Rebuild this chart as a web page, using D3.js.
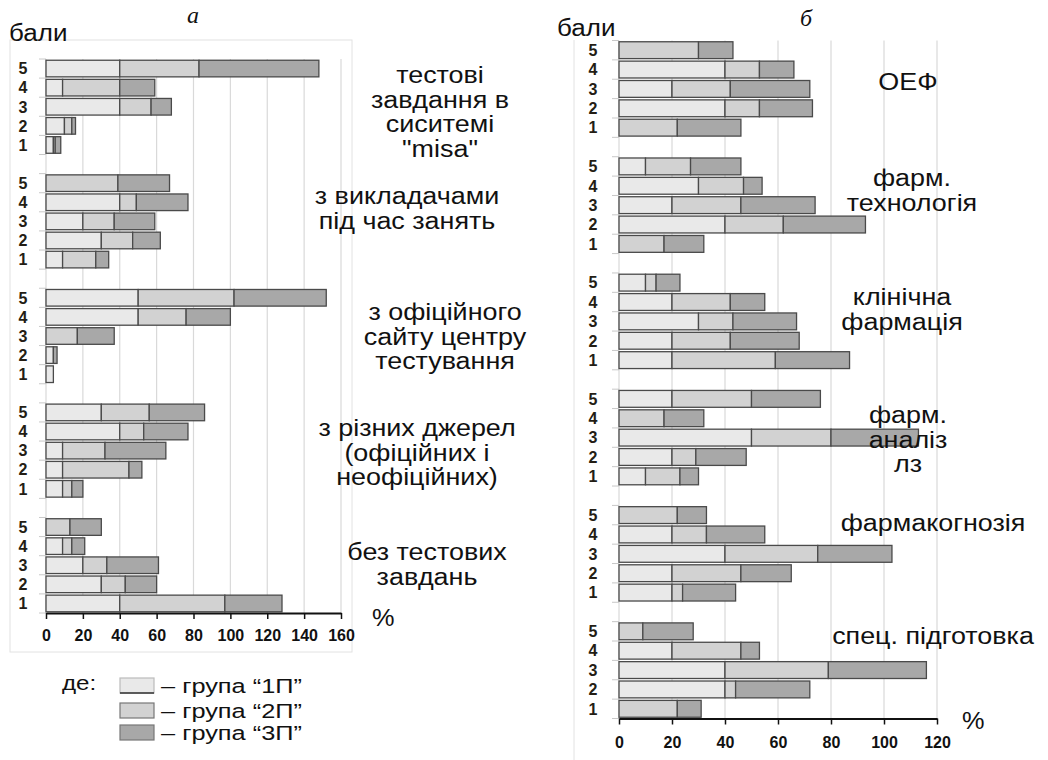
<!DOCTYPE html>
<html>
<head>
<meta charset="utf-8">
<script src="https://cdn.jsdelivr.net/npm/d3@7"></script>
<style>
  body { margin: 0; background: #fff; }
  svg text { font-family: "Liberation Sans", Arial, sans-serif; }
</style>
</head>
<body>
<div id="chart"></div>
<script>
// бали (оцінки) – зверху вниз
const scores = ["5", "4", "3", "2", "1"];
const seriesNames = ["група “1П”", "група “2П”", "група “3П”"];

// Панель а – джерела підготовки
const topicsA = [
    ["тестові", "завдання в", "сиситемі", "\"misa\""],
    ["з викладачами", "під час занять"],
    ["з офіційного", "сайту центру", "тестування"],
    ["з різних джерел", "(офіційних і", "неофіційних)"],
    ["без тестових", "завдань"]
];
// значення по темах, бали 5..1
const a1P = [40, 9, 40, 10, 4,   0, 40, 20, 30, 9,   50, 50, 0, 4, 4,   30, 40, 9, 9, 9,   0, 9, 20, 30, 40];
const a2P = [43, 31, 17, 4, 1,   39, 9, 17, 17, 18,  52, 26, 17, 0, 0,  26, 13, 23, 36, 5,  13, 5, 13, 13, 57];
const a3P = [65, 19, 11, 2, 3,   28, 28, 22, 15, 7,  50, 24, 20, 2, 0,  30, 24, 33, 7, 6,   17, 7, 28, 17, 31];
const ticksA = [0, 20, 40, 60, 80, 100, 120, 140, 160];

// Панель б – дисципліни
const topicsB = [
    ["ОЕФ"],
    ["фарм.", "технологія"],
    ["клінічна", "фармація"],
    ["фарм.", "аналіз", "лз"],
    ["фармакогнозія"],
    ["спец. підготовка"]
];
const b1P = [0, 40, 20, 40, 0,   10, 30, 20, 40, 0,   10, 20, 30, 20, 20,   20, 0, 50, 20, 10,   0, 20, 40, 20, 20,   0, 20, 40, 40, 0];
const b2P = [30, 13, 22, 13, 22,  17, 17, 26, 22, 17,  4, 22, 13, 22, 39,   30, 17, 30, 9, 13,   22, 13, 35, 26, 4,   9, 26, 39, 4, 22];
const b3P = [13, 13, 30, 20, 24,  19, 7, 28, 31, 15,   9, 13, 24, 26, 28,   26, 15, 33, 19, 7,   11, 22, 28, 19, 20,  19, 7, 37, 28, 9];
const ticksB = [0, 20, 40, 60, 80, 100, 120];

const colors = ["#e9e9e9", "#d2d2d2", "#a8a8a8"];

const svg = d3.select("#chart").append("svg")
    .attr("width", 1048)
    .attr("height", 760);

// текст, трохи розтягнутий по горизонталі (як у скані)
function addText(parent, x, y, txt, size, anchor, sx) {
    return parent.append("text")
        .attr("transform", `translate(${x},${y}) scale(${sx || 1},1)`)
        .attr("dy", "0.35em")
        .attr("text-anchor", anchor || "start")
        .style("font-size", size + "px")
        .attr("fill", "#111")
        .text(txt);
}

function drawPanel(cfg) {
    const g = svg.append("g");

    // слоти: 5 балів на тему + порожній проміжок між темами
    const slots = [];
    cfg.topics.forEach((t, i) => {
        scores.forEach(s => slots.push(i + "-" + s));
        if (i < cfg.topics.length - 1) slots.push(i + "-gap");
    });

    const x = d3.scaleLinear().domain(cfg.xDomain).range(cfg.xRange);
    const y = d3.scaleBand().domain(slots).range(cfg.yRange).paddingInner(0.13).paddingOuter(0.065);
    const step = y.step();

    // рамка
    if (cfg.frame) {
        g.append("rect")
            .attr("x", cfg.frame[0]).attr("y", cfg.frame[1])
            .attr("width", cfg.frame[2]).attr("height", cfg.frame[3])
            .attr("fill", "none").attr("stroke", "#e2e2e2");
    }

    // сітка
    g.selectAll(".grid")
        .data(cfg.ticks)
        .enter().append("line")
        .attr("x1", d => x(d)).attr("x2", d => x(d))
        .attr("y1", cfg.yRange[0]).attr("y2", cfg.yRange[1])
        .attr("stroke", "#d9d9d9").attr("stroke-width", 1.2);

    // рядки даних
    const rows = [];
    cfg.topics.forEach((t, i) => {
        scores.forEach((s, j) => {
            const k = i * 5 + j;
            rows.push({ key: i + "-" + s, score: s, v: [cfg.s1[k], cfg.s2[k], cfg.s3[k]] });
        });
    });

    // маленькі поділки на осі Y
    g.selectAll(".ytick")
        .data(rows)
        .enter().append("line")
        .attr("x1", x(0) - 7).attr("x2", x(0))
        .attr("y1", d => y(d.key) - step * 0.065).attr("y2", d => y(d.key) - step * 0.065)
        .attr("stroke", "#c8c8c8");
    cfg.topics.forEach((t, i) => {
        const yy = y(i + "-1") + y.bandwidth() + step * 0.065;
        g.append("line").attr("x1", x(0) - 7).attr("x2", x(0))
            .attr("y1", yy).attr("y2", yy).attr("stroke", "#c8c8c8");
    });

    // стовпці
    const stack = d3.stack().keys([0, 1, 2]).value((d, k) => d.v[k]);
    const layers = stack(rows);
    g.selectAll(".layer")
        .data(layers)
        .enter().append("g")
        .attr("fill", (d, i) => colors[i])
        .selectAll("rect")
        .data(d => d.filter(p => p[1] - p[0] > 0))
        .enter().append("rect")
        .attr("x", d => x(d[0]))
        .attr("y", d => y(d.data.key))
        .attr("width", d => x(d[1]) - x(d[0]))
        .attr("height", y.bandwidth())
        .attr("stroke", "#4a4a4a")
        .attr("stroke-width", 1.3);

    // підписи балів
    g.selectAll(".score")
        .data(rows)
        .enter().append("text")
        .attr("x", cfg.scoreX)
        .attr("y", d => y(d.key) + y.bandwidth() / 2)
        .attr("dy", "0.36em")
        .attr("text-anchor", "middle")
        .style("font-size", cfg.scoreSize + "px")
        .style("font-weight", "bold")
        .attr("fill", "#231d14")
        .text(d => d.score);

    // вісь X
    const axisY = cfg.yRange[1];
    const ax = g.append("g")
        .attr("transform", `translate(0,${axisY})`)
        .call(d3.axisBottom(x).tickValues(cfg.ticks).tickSize(6).tickSizeOuter(0).tickPadding(cfg.tickPad));
    ax.select(".domain").attr("stroke", "#111").attr("stroke-width", 2);
    ax.selectAll(".tick line").attr("stroke", "#111").attr("stroke-width", 1.5);
    ax.selectAll(".tick text")
        .style("font-size", cfg.tickSize + "px")
        .style("font-weight", "bold")
        .style("font-family", "'Liberation Sans', Arial, sans-serif")
        .attr("fill", "#111");

    // назви тем
    cfg.topics.forEach((lines, i) => {
        const pos = cfg.labelPos[i];
        lines.forEach((ln, j) => {
            addText(g, pos[0], pos[1] + j * 24.5, ln, 23, "middle", 1.17);
        });
    });

    // «бали», «%», заголовок
    addText(g, cfg.baliPos[0], cfg.baliPos[1], "бали", 23, "start", 1.13);
    addText(g, cfg.pctPos[0], cfg.pctPos[1], "%", 23, "start", 1.1);
    g.append("text").attr("x", cfg.titlePos[0]).attr("y", cfg.titlePos[1])
        .attr("text-anchor", "middle")
        .style("font-size", "24px")
        .style("font-style", "italic")
        .style("font-family", "'Liberation Serif', 'Times New Roman', serif")
        .attr("fill", "#111").text(cfg.title);
}

drawPanel({
    topics: topicsA, s1: a1P, s2: a2P, s3: a3P,
    xDomain: [0, 160], xRange: [46, 341], ticks: ticksA,
    yRange: [59, 613],
    frame: [10, 40, 342, 612],
    scoreX: 23, scoreSize: 16, tickSize: 16, tickPad: 11,
    labelPos: [[440, 75], [407, 196], [445, 312], [417, 428], [427, 552]],
    baliPos: [9, 33], pctPos: [372, 618], titlePos: [193, 23], title: "а"
});

drawPanel({
    topics: topicsB, s1: b1P, s2: b2P, s3: b3P,
    xDomain: [0, 120], xRange: [619, 937], ticks: ticksB,
    yRange: [40.5, 718.5],
    frame: null,
    scoreX: 593, scoreSize: 16, tickSize: 16, tickPad: 12,
    labelPos: [[908, 82], [912, 178], [902, 297], [908, 415], [933, 523], [933, 636]],
    baliPos: [557, 28], pctPos: [962, 721], titlePos: [806, 26], title: "б"
});

// ліва рамка правої панелі
svg.append("line").attr("x1", 574).attr("x2", 574).attr("y1", 40).attr("y2", 760)
    .attr("stroke", "#e2e2e2");

// легенда
const legend = svg.append("g");
addText(legend, 62, 683, "де:", 21, "start", 1.15);
const legY = [678, 703, 725];
seriesNames.forEach((name, i) => {
    legend.append("rect")
        .attr("x", 120).attr("y", legY[i])
        .attr("width", 34).attr("height", 15)
        .attr("fill", colors[i])
        .attr("stroke", i === 0 ? "#bbb" : "#777")
        .attr("stroke-width", 1.2);
    if (i === 0) {
        legend.append("line").attr("x1", 120).attr("x2", 154)
            .attr("y1", legY[i] + 15).attr("y2", legY[i] + 15)
            .attr("stroke", "#333").attr("stroke-width", 1.5);
    }
    addText(legend, 161, legY[i] + 8, "– " + name, 19.5, "start", 1.3);
});
</script>
</body>
</html>
